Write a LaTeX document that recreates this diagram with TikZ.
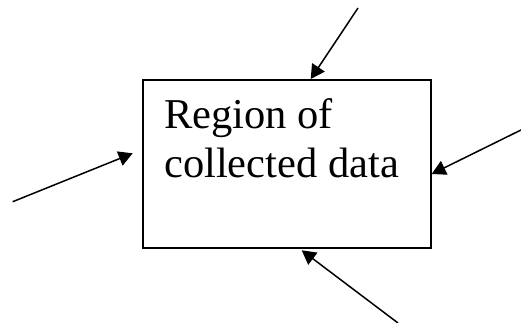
\documentclass[tikz,border=0pt]{standalone}
\usepackage{fontspec}
\setmainfont{Liberation Serif}
\usetikzlibrary{arrows.meta}
\begin{document}
\begin{tikzpicture}[x=1pt,y=-1pt,
  regionbox/.style={draw=black,line width=2pt,minimum width=288pt,minimum height=168pt,inner sep=0pt,fill=white},
  boxtext/.style={font=\fontsize{42.5}{49}\selectfont,inner sep=0pt,anchor=base west},
  inflow/.style={line width=1.5pt,-{Triangle[length=14pt,width=15pt]}}]
  \useasboundingbox (0,0) rectangle (521,322);
  % central region
  \node[regionbox] (box) at (286.7,164) {};
  \node[boxtext] (line1) at (164,128.3) {Region of};
  \node[boxtext] (line2) at (164,177.3) {collected data};
  % outer start points of the incoming arrows
  \coordinate (srcTop) at (358,8);
  \coordinate (srcLeft) at (12.7,201.7);
  \coordinate (srcRight) at (522,129.5);
  \coordinate (srcBottom) at (398,323);
  % arrow tips
  \coordinate (tipTop) at (310.7,80);
  \coordinate (tipLeft) at (132.7,153.3);
  \coordinate (tipRight) at (431.7,174);
  \coordinate (tipBottom) at (301.7,250.3);
  \draw[inflow] (srcTop) -- (box.north -| tipTop);
  \draw[inflow] (srcLeft) -- (tipLeft);
  \draw[inflow] (srcRight) -- (box.east |- tipRight);
  \draw[inflow] (srcBottom) -- (tipBottom);
\end{tikzpicture}
\end{document}
